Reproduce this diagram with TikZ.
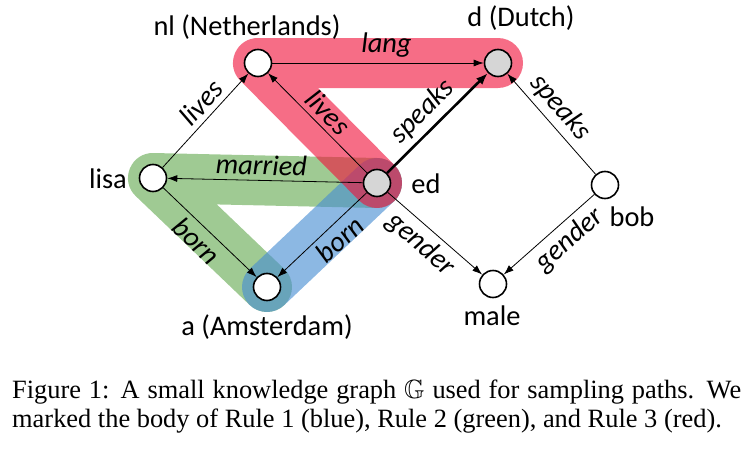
\documentclass[tikz,border=0pt]{standalone}
\usepackage{fontspec}
\setmainfont{Liberation Serif}
\newfontfamily\graphfont{Carlito}
\usepackage{amssymb}
\usetikzlibrary{arrows.meta,backgrounds}

\begin{document}
\begin{tikzpicture}[x=1pt,y=-1pt,
  font=\graphfont\fontsize{28.4}{32}\selectfont,
  entity/.style={draw,circle,line width=1.6pt,fill=white,minimum size=27pt,inner sep=0pt},
  query/.style={entity,fill=black!16},
  rel/.style={-{Latex[length=10pt,width=7pt]},line width=0.8pt},
  relbold/.style={line width=2.6pt,-{Latex[length=12pt,width=9pt]}},
  lab/.style={font=\graphfont\itshape\fontsize{28.4}{32}\selectfont,sloped,inner sep=5pt},
  tag/.style={anchor=base},
  rulebody/.style={line width=50pt,line cap=round,line join=round,opacity=0.62},
  caption/.style={anchor=base west,inner sep=0pt,font=\rmfamily\fontsize{26.4}{29}\selectfont}]

\useasboundingbox (0,0) rectangle (755,455);

%entities
  \node[entity] (nl)   at (258,63)  {};
  \node[query]  (d)    at (498,63)  {};
  \node[entity] (lisa) at (153,178) {};
  \node[query]  (ed)   at (377,183) {};
  \node[entity] (bob)  at (605,185) {};
  \node[entity] (a)    at (267,287) {};
  \node[entity] (male) at (493,284) {};

%entity names
  \node[tag] (nlName)   at (247,35)  {nl (Netherlands)};
  \node[tag] (dName)    at (521,27)  {d (Dutch)};
  \node[tag] (lisaName) at (108,188) {lisa};
  \node[tag] (edName)   at (426,193) {ed};
  \node[tag] (bobName)  at (632,226) {bob};
  \node[tag] (maleName) at (492,325) {male};
  \node[tag] (aName)    at (267,335) {a (Amsterdam)};

%relations
  \draw[rel] (nl) -- node[lab,above,pos=0.54] (langLab) {lang} (d);
  \draw[rel] (lisa) -- node[lab,above,pos=0.58] (livesA) {lives} (nl);
  \draw[rel] (ed) -- node[lab,above,pos=0.5] (livesB) {lives} (nl);
  \draw[rel] (ed) -- node[lab,above,pos=0.52] (marriedLab) {married} (lisa);
  \draw[rel] (lisa) -- node[lab,below,pos=0.47] (bornA) {born} (a);
  \draw[rel] (ed) -- node[lab,below,pos=0.42] (bornB) {born} (a);
  \draw[relbold] (ed) -- node[lab,above,pos=0.48] (speaksA) {speaks} (d);
  \draw[rel] (bob) -- node[lab,above,pos=0.55] (speaksB) {speaks} (d);
  \draw[rel] (ed) -- node[lab,below,pos=0.47] (genderA) {gender} (male);
  \draw[rel] (bob) -- node[lab,below,pos=0.4] (genderB) {gender} (male);

%rule bodies
  \begin{pgfonlayer}{background}
    \draw[rulebody,color={rgb,255:red,100;green,170;blue,80}] (ed.center) -- (lisa.center) -- (a.center);
    \draw[rulebody,color={rgb,255:red,70;green,140;blue,210}] (ed.center) -- (a.center);
    \draw[rulebody,color={rgb,255:red,240;green,20;blue,60}] (d.center) -- (nl.center) -- (ed.center);
  \end{pgfonlayer}

%caption
  \node[caption] (capA) at (12,398) {\makebox[729pt][s]{Figure 1: A small knowledge graph $\mathbb{G}$ used for sampling paths. We}};
  \node[caption] (capB) at (12,427) {marked the body of Rule 1 (blue), Rule 2 (green), and Rule 3 (red).};

\end{tikzpicture}
\end{document}
